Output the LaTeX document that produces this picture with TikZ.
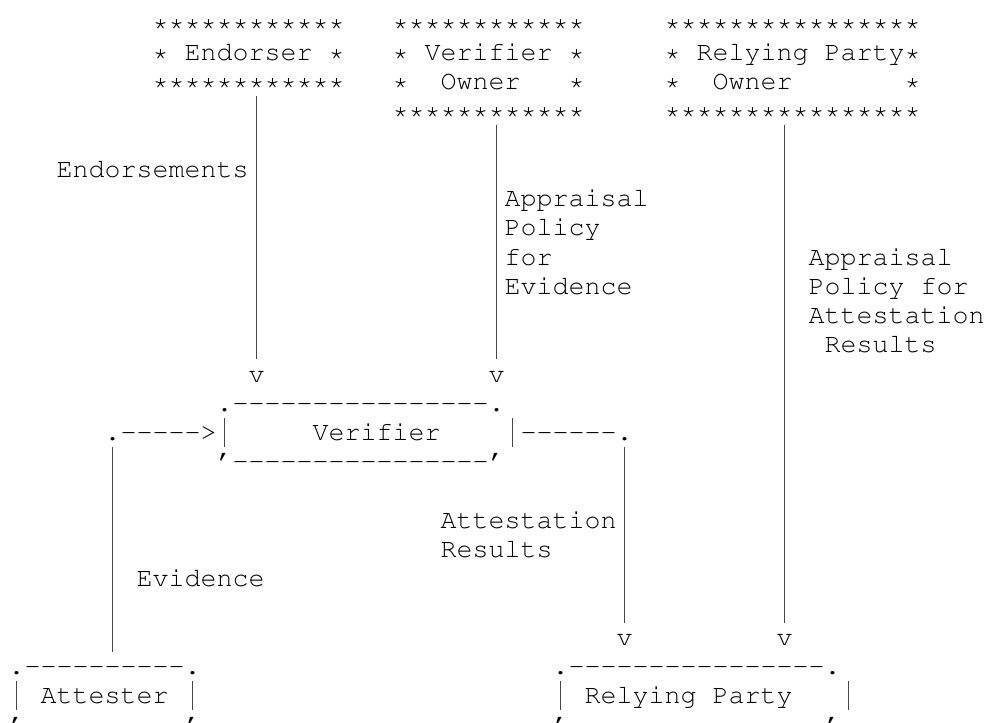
\documentclass[tikz,border=0pt]{standalone}
\usepackage[T1]{fontenc}
\IfFileExists{tgcursor.sty}{\usepackage{tgcursor}}{\usepackage{courier}}
\begin{document}
\begin{tikzpicture}[
    % one unit across = one character cell, one unit down = one text line
    x=12pt, y=-21.9375pt,
    txt/.style={anchor=base west, inner sep=0pt, outer sep=0pt,
                font=\ttfamily\fontsize{20}{24}\selectfont},
    pipe/.style={draw=black!72, line width=1.1pt}
  ]
  \useasboundingbox (-0.54375,-1.06325) rectangle (61.14375,23.6547);
  \clip (-0.54375,-1.06325) rectangle (61.14375,23.6547);

  % ---- owner boxes drawn with asterisks
  \node[txt] (endorser-top) at (9,0) {************};
  \node[txt] (endorser)     at (9,1) {* Endorser *};
  \node[txt] (endorser-bot) at (9,2) {************};

  \node[txt] (vowner-top) at (24,0) {************};
  \node[txt] (vowner)     at (24,1) {* Verifier *};
  \node[txt] (vowner-2)   at (24,2) {*~~Owner~~~*};
  \node[txt] (vowner-bot) at (24,3) {************};

  \node[txt] (rpowner-top) at (41,0) {****************};
  \node[txt] (rpowner)     at (41,1) {* Relying Party*};
  \node[txt] (rpowner-2)   at (41,2) {*~~Owner~~~~~~~*};
  \node[txt] (rpowner-bot) at (41,3) {****************};

  % ---- flow labels
  \node[txt] (lbl-endorse) at (3,5) {Endorsements};
  \node[txt] (lbl-ape1) at (31,6) {Appraisal};
  \node[txt] (lbl-ape2) at (31,7) {Policy};
  \node[txt] (lbl-ape3) at (31,8) {for};
  \node[txt] (lbl-ape4) at (31,9) {Evidence};
  \node[txt] (lbl-apr1) at (50,8) {Appraisal};
  \node[txt] (lbl-apr2) at (50,9) {Policy for};
  \node[txt] (lbl-apr3) at (50,10) {Attestation};
  \node[txt] (lbl-apr4) at (51,11) {Results};
  \node[txt] (lbl-ar1) at (27,17) {Attestation};
  \node[txt] (lbl-ar2) at (27,18) {Results};
  \node[txt] (lbl-ev) at (8,19) {Evidence};

  % ---- arrow heads
  \node[txt] (tip-endorse) at (15,12) {v};
  \node[txt] (tip-ape)     at (30,12) {v};
  \node[txt] (tip-ar)      at (38,21) {v};
  \node[txt] (tip-apr)     at (48,21) {v};

  % ---- Verifier box
  \node[txt] (verifier-top) at (13,13) {.-{}-{}-{}-{}-{}-{}-{}-{}-{}-{}-{}-{}-{}-{}-{}-.};
  \node[txt] (ev-in)        at (6,14)  {.-{}-{}-{}-{}->};
  \node[txt] (verifier)     at (19,14) {Verifier};
  \node[txt] (ar-out)       at (32,14) {-{}-{}-{}-{}-{}-.};
  \node[txt] (verifier-bot) at (13,15) {'-{}-{}-{}-{}-{}-{}-{}-{}-{}-{}-{}-{}-{}-{}-{}-'};

  % ---- Attester and Relying Party boxes
  \node[txt] (attester-top) at (0,22)  {.-{}-{}-{}-{}-{}-{}-{}-{}-{}-.};
  \node[txt] (attester)     at (2,23)  {Attester};
  \node[txt] (attester-bot) at (0,24)  {'-{}-{}-{}-{}-{}-{}-{}-{}-{}-'};
  \node[txt] (rp-top)       at (34,22) {.-{}-{}-{}-{}-{}-{}-{}-{}-{}-{}-{}-{}-{}-{}-{}-.};
  \node[txt] (rp)           at (36,23) {Relying Party};
  \node[txt] (rp-bot)       at (34,24) {'-{}-{}-{}-{}-{}-{}-{}-{}-{}-{}-{}-{}-{}-{}-{}-'};

  % ---- ends of the vertical runs (column centre, top/bottom of a text line)
  \coordinate (endorse-a) at (15.5,2.22);  \coordinate (endorse-b) at (15.5,11.22);
  \coordinate (ape-a)     at (30.5,3.22);  \coordinate (ape-b)     at (30.5,11.22);
  \coordinate (apr-a)     at (48.5,3.22);  \coordinate (apr-b)     at (48.5,20.22);
  \coordinate (ev-a)      at (6.5,14.22);  \coordinate (ev-b)      at (6.5,21.22);
  \coordinate (ar-a)      at (38.5,14.22); \coordinate (ar-b)      at (38.5,20.22);

  \draw[pipe] (endorse-a) -- (endorse-b);
  \draw[pipe] (ape-a) -- (ape-b);
  \draw[pipe] (apr-a) -- (apr-b);
  \draw[pipe] (ev-a) -- (ev-b);
  \draw[pipe] (ar-a) -- (ar-b);

  % ---- box sides, one text line high
  \coordinate (vl-a) at (13.5,13.22); \coordinate (vl-b) at (13.5,14.22);
  \coordinate (vr-a) at (31.5,13.22); \coordinate (vr-b) at (31.5,14.22);
  \coordinate (al-a) at (0.5,22.22);  \coordinate (al-b) at (0.5,23.22);
  \coordinate (ar2-a) at (11.5,22.22); \coordinate (ar2-b) at (11.5,23.22);
  \coordinate (rl-a) at (34.5,22.22); \coordinate (rl-b) at (34.5,23.22);
  \coordinate (rr-a) at (52.5,22.22); \coordinate (rr-b) at (52.5,23.22);
  \draw[pipe] (vl-a) -- (vl-b);
  \draw[pipe] (vr-a) -- (vr-b);
  \draw[pipe] (al-a) -- (al-b);
  \draw[pipe] (ar2-a) -- (ar2-b);
  \draw[pipe] (rl-a) -- (rl-b);
  \draw[pipe] (rr-a) -- (rr-b);
\end{tikzpicture}
\end{document}
